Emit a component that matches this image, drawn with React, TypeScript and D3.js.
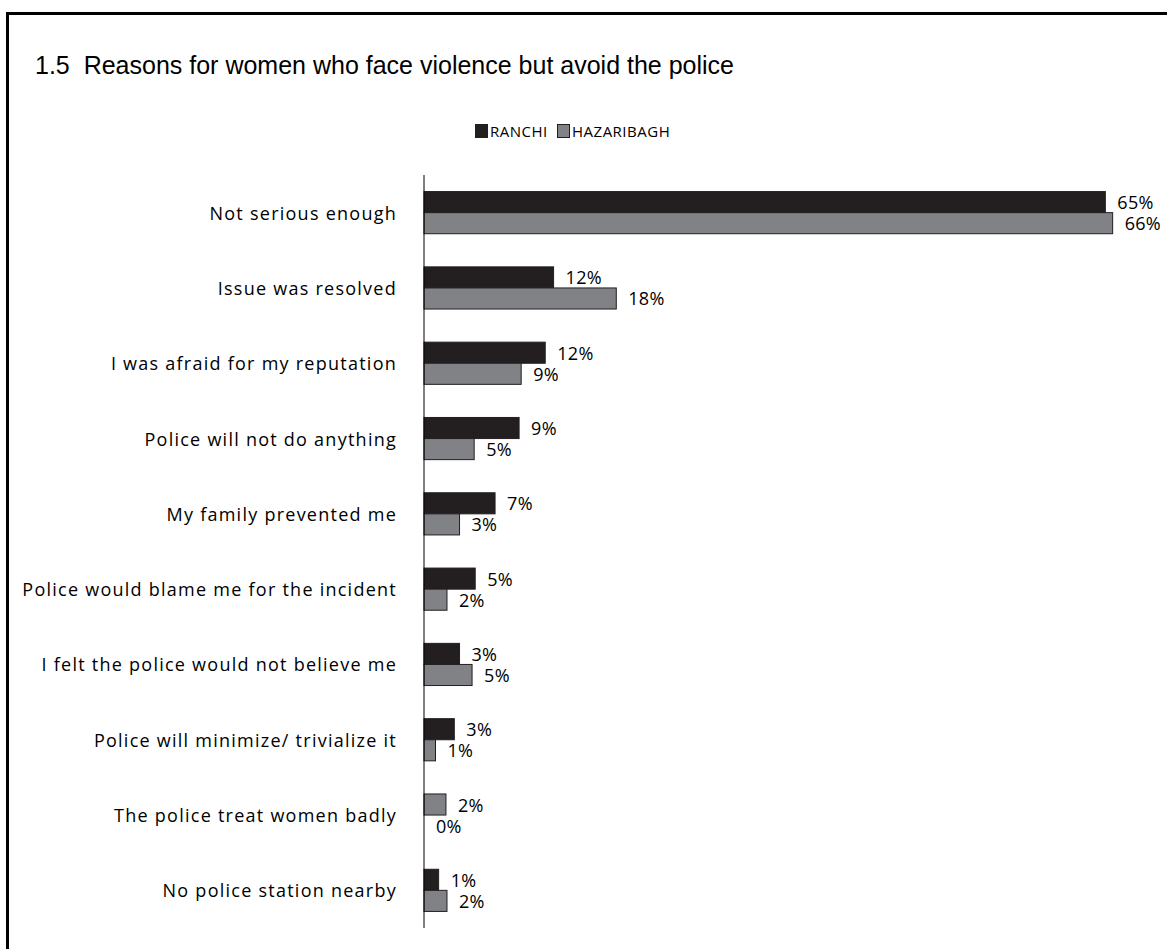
import React from "react";
import * as d3 from "d3";

const categories = [
  "Not serious enough",
  "Issue was resolved",
  "I was afraid for my reputation",
  "Police will not do anything",
  "My family prevented me",
  "Police would blame me for the incident",
  "I felt the police would not believe me",
  "Police will minimize/ trivialize it",
  "The police treat women badly",
  "No police station nearby",
];
const ranchiValues = [65.2, 12.4, 11.6, 9.1, 6.8, 4.9, 3.4, 2.9, 2.1, 1.4];
const hazaribaghValues = [65.9, 18.4, 9.3, 4.8, 3.4, 2.2, 4.6, 1.1, 0, 2.2];
// Point in the source drawn with the grey fill in the RANCHI slot
const ranchiGreyPoints = [8];
const seriesNames = ["RANCHI", "HAZARIBAGH"];
const title = "1.5\u00a0\u00a0Reasons for women who face violence but avoid the police";

const W = 1167;
const H = 949;
const DARK = "#231f20";
const GREY = "#808285";
const LABEL_FONT = "'Open Sans', 'Noto Sans', sans-serif";

export default function App() {
  const x = d3.scaleLinear().domain([0, 100]).range([424, 424 + 1045]);
  const y = d3
    .scaleBand<string>()
    .domain(categories)
    .range([175, 928])
    .paddingInner(0.44)
    .paddingOuter(0.22);
  const sub = d3
    .scaleBand<string>()
    .domain(seriesNames)
    .range([0, y.bandwidth()]);
  const fmt = (v: number) => `${Math.round(v)}%`;
  const series = [
    { name: seriesNames[0], values: ranchiValues, fill: DARK },
    { name: seriesNames[1], values: hazaribaghValues, fill: GREY },
  ];

  return (
    <svg
      width={W}
      height={H}
      style={{ position: "absolute", left: 0, top: 0, display: "block", background: "#fff" }}
    >
      <rect x={7.5} y={13.5} width={1300} height={1100} fill="none" stroke="#000" strokeWidth={3} />
      <text x={35} y={74} fontFamily="'Liberation Sans', Arial, sans-serif" fontSize={25} fill="#000">
        {title}
      </text>

      {/* legend */}
      <g fontFamily={LABEL_FONT} fontSize={15} fill="#000">
        <rect x={475.5} y={124.5} width={12} height={13} fill={DARK} stroke={DARK} />
        <text x={490} y={131} dominantBaseline="central" letterSpacing={0.5}>
          {seriesNames[0]}
        </text>
        <rect x={557.5} y={124.5} width={12} height={13} fill={GREY} stroke={DARK} />
        <text x={572} y={131} dominantBaseline="central" letterSpacing={0.5}>
          {seriesNames[1]}
        </text>
      </g>

      {/* bars */}
      {series.map((s) => (
        <g key={s.name}>
          {categories.map((c, i) => {
            const v = s.values[i];
            const y0 = (y(c) ?? 0) + (sub(s.name) ?? 0);
            const fill = s.name === seriesNames[0] && ranchiGreyPoints.includes(i) ? GREY : s.fill;
            return (
              <g key={c}>
                {v > 0 && (
                  <rect
                    x={x(0)}
                    y={y0}
                    width={x(v) - x(0)}
                    height={sub.bandwidth()}
                    fill={fill}
                    stroke={DARK}
                    strokeWidth={1}
                  />
                )}
                <text
                  x={x(v) + 12}
                  y={y0 + sub.bandwidth() / 2}
                  dominantBaseline="central"
                  fontFamily={LABEL_FONT}
                  fontSize={18}
                  letterSpacing={0.3}
                  fill="#000"
                >
                  {fmt(v)}
                </text>
              </g>
            );
          })}
        </g>
      ))}

      {/* axis */}
      <line x1={x(0)} x2={x(0)} y1={175} y2={928} stroke="#000" strokeWidth={1} />

      {/* category labels */}
      <g fontFamily={LABEL_FONT} fontSize={18} fill="#000" textAnchor="end">
        {categories.map((c) => (
          <text key={c} x={397} y={(y(c) ?? 0) + y.bandwidth() / 2} dominantBaseline="central" letterSpacing={1.25}>
            {c}
          </text>
        ))}
      </g>
    </svg>
  );
}
